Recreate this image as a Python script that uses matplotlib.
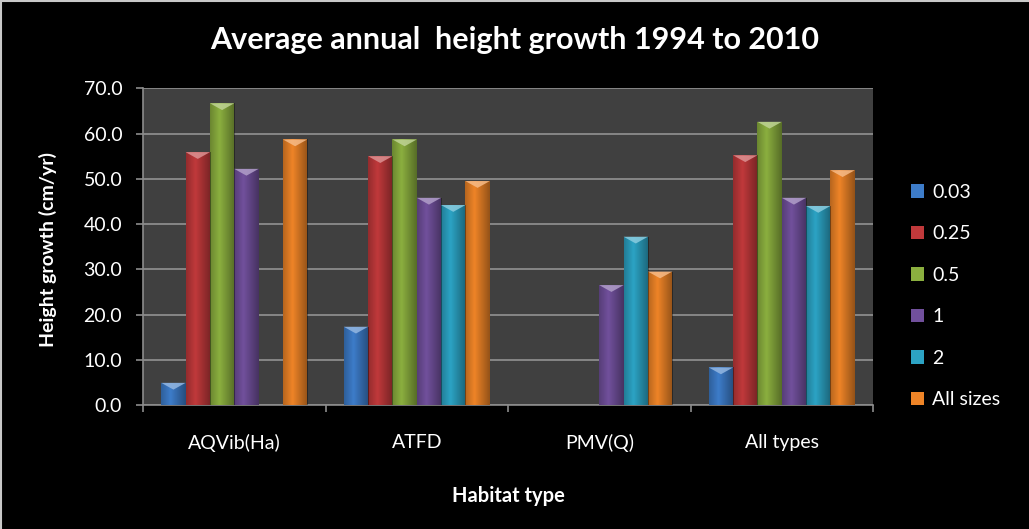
import matplotlib
matplotlib.use('Agg')
import matplotlib.pyplot as plt
import numpy as np
from matplotlib.patches import Polygon
from matplotlib.lines import Line2D
from matplotlib.colors import to_rgb

plt.rcParams['font.family'] = ['Lato', 'DejaVu Sans']

# average annual height growth (cm/yr) per habitat type and size class
habitats = ['AQVib(Ha)', 'ATFD', 'PMV(Q)', 'All types']
sizes = ['0.03', '0.25', '0.5', '1', '2', 'All sizes']
g_003 = [4.9, 17.3, 0.0, 8.3]
g_025 = [55.9, 55.0, 0.0, 55.2]
g_05 = [66.7, 58.7, 0.0, 62.6]
g_1 = [52.2, 45.8, 26.5, 45.8]
g_2 = [0.0, 44.2, 37.2, 44.0]
g_all = [58.7, 49.5, 29.5, 51.9]
series = [g_003, g_025, g_05, g_1, g_2, g_all]
colors = ['#3D7CC9', '#C0393B', '#8BAF3F', '#71509C', '#2CA3C4', '#EE8427']

fig = plt.figure(figsize=(10.29, 5.29), dpi=100, facecolor='black')
ax = fig.add_axes([0.139, 0.2344, 0.7094, 0.5986])
ax.set_facecolor('#404040')

n = len(series)
width = 1.0 / (n + 1.5)
x = np.arange(len(habitats))

# horizontal shading profile for the bevelled bar look
prof = np.linspace(0, 1, 60)
alpha = 0.38 * np.abs(prof - 0.38) / 0.62
shade = np.zeros((1, 60, 4))
shade[0, :, 3] = alpha

for i, (vals, col) in enumerate(zip(series, colors)):
    bars = ax.bar(x + (i - (n - 1) / 2) * width, vals, width, color=col,
                  zorder=3, label=sizes[i], linewidth=0)
    light = tuple(0.55 * np.array(to_rgb(col)) + 0.45)
    for p in bars:
        h = p.get_height()
        if h <= 0:
            continue
        x0, w = p.get_x(), p.get_width()
        im = ax.imshow(shade, extent=[x0, x0 + w, 0, h], aspect='auto',
                       zorder=3.5, interpolation='bilinear')
        im.set_clip_path(p)
        d = min(1.5, h)
        ax.add_patch(Polygon([(x0, h), (x0 + w, h), (x0 + w / 2, h - d)],
                             closed=True, facecolor=light, edgecolor='none',
                             alpha=0.85, zorder=4))

ax.set_xlim(-0.5, len(habitats) - 0.5)
ax.set_ylim(0, 70)
ax.set_yticks(np.arange(0, 71, 10))
ax.set_yticklabels(['%.1f' % v for v in np.arange(0, 71, 10)])
ax.yaxis.grid(True, color='#8C8C8C', linewidth=1.3, zorder=1)
ax.set_axisbelow(True)

ax.set_xticks(x)
ax.set_xticklabels(habitats)
ax.set_xticks(np.arange(-0.5, len(habitats)), minor=True)
ax.tick_params(axis='x', which='major', length=0, pad=21, colors='white',
               labelsize=14)
ax.tick_params(axis='x', which='minor', length=5, width=1.2, color='#8C8C8C',
               direction='out')
ax.tick_params(axis='y', length=5, width=1.2, color='#8C8C8C', colors='white',
               labelsize=14, pad=10)
for t in ax.get_yticklabels():
    t.set_color('white')

for s in ['top', 'right']:
    ax.spines[s].set_visible(False)
for s in ['left', 'bottom']:
    ax.spines[s].set_color('#8C8C8C')
    ax.spines[s].set_linewidth(1.2)

ax.set_ylabel('Height growth (cm/yr)', color='white', fontsize=14,
              fontweight='bold')
ax.yaxis.set_label_coords(-0.118, 0.49)
ax.set_xlabel('Habitat type', color='white', fontsize=14.5,
              fontweight='bold', labelpad=24)

fig.text(0.5, 0.924, 'Average annual  height growth 1994 to 2010',
         ha='center', va='center', color='white', fontsize=22,
         fontweight='bold')

leg = fig.legend(loc='center left', bbox_to_anchor=(0.868, 0.44),
                 frameon=False, fontsize=14, labelcolor='white',
                 handlelength=0.7, handleheight=0.7, handletextpad=0.4,
                 labelspacing=1.26)

# thin light frame on the top and left edge
fig.add_artist(Line2D([0, 1], [0.998, 0.998], transform=fig.transFigure,
                      color='#C8C8C8', linewidth=1.5))
fig.add_artist(Line2D([0.001, 0.001], [0, 1], transform=fig.transFigure,
                      color='#C8C8C8', linewidth=1.5))

fig.savefig('out.png', dpi=100, facecolor='black')
